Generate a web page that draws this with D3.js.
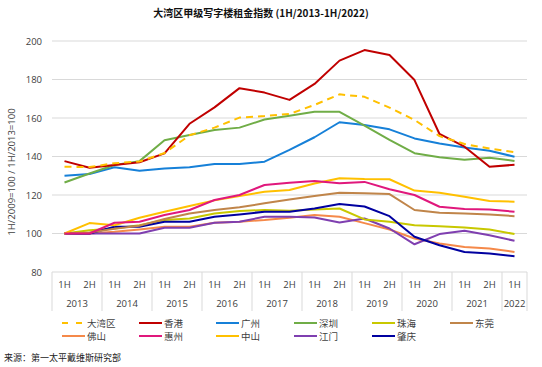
<!DOCTYPE html>
<html><head><meta charset="utf-8">
<script src="https://cdn.jsdelivr.net/npm/d3@7"></script>
<style>body{margin:0;background:#fff;}svg{display:block;font-family:"Noto Sans CJK SC","Noto Sans",sans-serif;}</style>
</head><body><svg id="c" width="542" height="367"></svg>
<script>
const years = ["2013","2014","2015","2016","2017","2018","2019","2020","2021","2022"];
const halves = ["1H","2H","1H","2H","1H","2H","1H","2H","1H","2H","1H","2H","1H","2H","1H","2H","1H","2H","1H"];
const categories = halves.map((h,i)=>years[Math.floor(i/2)]+" "+h);
const yTicks = [80,100,120,140,160,180,200];

const seriesNames = ["大湾区","香港","广州","深圳","珠海","东莞","佛山","惠州","中山","江门","肇庆"];
const seriesColors = ["#FFC000","#C00000","#1680D8","#70AD47","#C8C800","#C0854A","#F5894A","#E0187C","#FFC000","#7F3FB0","#0000A0"];
const v_gba = [134.7,134.5,136.5,137.4,141.8,151,155,160.2,161,162.1,166.8,172.3,171,165.4,159,150.6,146.5,144.1,142.3];
const v_hk  = [137.6,134.2,135.6,137,141.6,157,165.5,175.5,173.2,169.4,177.7,189.8,195.3,192.7,179.7,151.7,145.1,134.7,135.7];
const v_gz  = [130,130.9,134.4,132.6,133.8,134.4,136.1,136.1,137.3,143.4,150,157.8,156.4,154.1,149.4,146.8,144.7,143,139.9];
const v_sz  = [126.5,131.2,135.6,137.6,148.4,151.2,153.8,155,159.2,161.2,163.2,163.2,156,148.6,141.7,139.6,138.3,139.4,137.7];
const v_zh  = [100,101.7,102.6,104.3,107,107.8,110.4,111.7,112.2,111.8,112.5,113,107.3,106.1,104.3,103.8,103.1,102.1,99.7];
const v_dg  = [100,100.5,102.5,104,107.5,110.4,112.2,113.6,115.7,117.7,119.5,121.2,120.9,120.5,112.2,110.8,110.4,109.9,109];
const v_fs  = [100,100,100.9,102.1,103.5,103.5,105.6,106.1,107,108.2,109.6,108.7,105.4,102.1,97.4,94.8,93,92.2,90.4];
const v_hz  = [100,100,105.6,106.1,109.6,112.2,117.4,120,125.2,126.4,127.3,126.1,126.8,123,120,113.9,112.7,112.5,111.3];
const v_zs  = [100,105.4,104.3,108.2,111.3,114.3,117.2,119.5,121.7,122.6,126,128.7,128.3,128.2,122.3,121.2,119.1,116.9,116.5];
const v_jm  = [100,100,100,100,103,103,105.6,106.1,108.7,108.7,108.3,105.7,107.8,102.6,94.4,99.7,101.4,99.1,96.2];
const v_zq  = [100,100,103.5,103.5,106.1,106.1,108.7,109.9,111.3,111.3,113,115.3,114,109,98.3,93.9,90.4,89.6,88.2];
const seriesValues = [v_gba,v_hk,v_gz,v_sz,v_zh,v_dg,v_fs,v_hz,v_zs,v_jm,v_zq];

const svg = d3.select("#c");
const L=52, R=527, T=41, B=272;
const x = d3.scaleBand().domain(categories).range([L,R]);
const y = d3.scaleLinear().domain([80,200]).range([B,T]);
const cx = c => x(c)+x.bandwidth()/2;

svg.append("text").attr("x",261).attr("y",17).attr("text-anchor","middle")
  .attr("font-size",10).attr("font-weight","bold").attr("fill","#111")
  .text("大湾区甲级写字楼租金指数 (1H/2013-1H/2022)");

// grid
svg.append("g").selectAll("line").data(yTicks.filter(t=>t>80)).join("line")
  .attr("x1",L).attr("x2",R).attr("y1",d=>y(d)).attr("y2",d=>y(d))
  .attr("stroke","#d9d9d9").attr("stroke-width",1);

// y axis labels
const ya = svg.append("g").attr("transform",`translate(${L},0)`)
  .call(d3.axisLeft(y).tickValues(yTicks).tickSize(0).tickPadding(10));
ya.select(".domain").remove();
ya.selectAll("text").attr("font-size",9.5).attr("fill","#404040").attr("font-family","'Open Sans','Noto Sans',sans-serif");

svg.append("text").attr("transform",`translate(15,172) rotate(-90)`)
  .attr("text-anchor","middle").attr("font-size",9.5).attr("fill","#404040")
  .attr("font-family","'Open Sans','Noto Sans',sans-serif")
  .text("1H/2009=100 / 1H/2013=100");

// x axis: bottom line and year separators
svg.append("line").attr("x1",L).attr("x2",R).attr("y1",B).attr("y2",B).attr("stroke","#d9d9d9");
const xa = svg.append("g").attr("transform",`translate(0,${B})`)
  .call(d3.axisBottom(x).tickSize(0).tickPadding(9).tickFormat((d,i)=>halves[i]));
xa.select(".domain").remove();
xa.selectAll("text").attr("font-size",9.5).attr("fill","#404040").attr("font-family","'Open Sans','Noto Sans',sans-serif");

const sepX = years.map((yr,k)=>x(categories[k*2])).concat([R]);
svg.append("g").selectAll("line").data(sepX).join("line")
  .attr("x1",d=>d).attr("x2",d=>d).attr("y1",B).attr("y2",311)
  .attr("stroke","#d9d9d9");
svg.append("g").selectAll("text").data(years).join("text")
  .attr("x",(d,k)=>{const a=sepX[k], b=sepX[k+1]; return (a+b)/2;})
  .attr("y",307).attr("text-anchor","middle").attr("font-size",9.5).attr("fill","#404040")
  .attr("font-family","'Open Sans','Noto Sans',sans-serif")
  .text(d=>d);

// lines
const line = d3.line().x((d,i)=>cx(categories[i])).y(d=>y(d));
const order = [6,9,4,10,5,8,7,2,3,1,0];
order.forEach(k=>{
  svg.append("path").attr("d",line(seriesValues[k])).attr("fill","none")
    .attr("stroke",seriesColors[k]).attr("stroke-width",2)
    .attr("stroke-linejoin","round")
    .attr("stroke-dasharray",k===0?"7,5":null);
});

// legend
const colX = [62,139,216,294,372,450];
seriesNames.forEach((n,k)=>{
  const lx = colX[k%6], ly = k<6?323:336;
  svg.append("line").attr("x1",lx).attr("x2",lx+23).attr("y1",ly).attr("y2",ly)
    .attr("stroke",seriesColors[k]).attr("stroke-width",2)
    .attr("stroke-dasharray",k===0?"6,8":null);
  svg.append("text").attr("x",lx+25).attr("y",ly+3.5).attr("font-size",9.5).attr("fill","#404040").text(n);
});

svg.append("text").attr("x",4).attr("y",361).attr("font-size",9).attr("fill","#222")
  .text("来源：第一太平戴维斯研究部");
</script></body></html>
